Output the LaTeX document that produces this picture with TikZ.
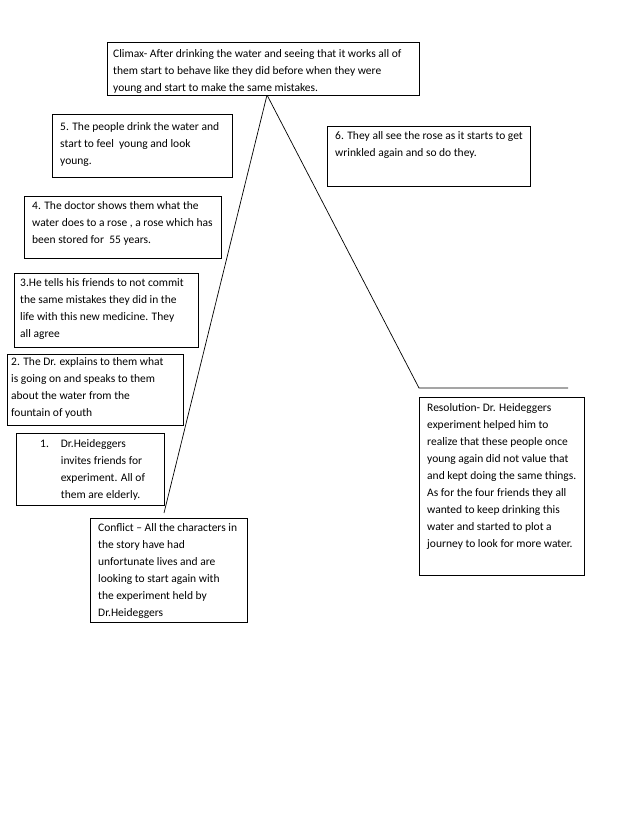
\documentclass[tikz,border=0pt]{standalone}
\usepackage{fontspec}
\setmainfont{Carlito}
\tikzset{
  box/.style={draw=black, line width=1pt, fill=white, inner sep=0pt, anchor=north west},
  txt/.style={inner sep=0pt, anchor=north west, align=left, font=\fontsize{11.5}{17}\selectfont},
  plotline/.style={draw=black, line width=0.7pt}
}
\begin{document}
\begin{tikzpicture}[x=1pt,y=-1pt]
\useasboundingbox[fill=white] (0,0) rectangle (638,826);

% plot line
\coordinate (start) at (164,513);
\coordinate (apex) at (267,95);
\coordinate (fall) at (419,388);
\coordinate (tail) at (568,388);
\draw[plotline] (start) -- (apex) -- (fall) -- (tail);

% boxes
\node[box, minimum width=312pt, minimum height=53pt] (climax) at (107,42) {};
\node[txt] (climaxT) at (113,49) {Climax- After drinking the water and seeing that it works all of\\them start to behave like they did before when they were\\young and start to make the same mistakes.};

\node[box, minimum width=180pt, minimum height=63pt] (five) at (52,114) {};
\node[txt] (fiveT) at (60,122) {5. The people drink the water and\\start to feel\ \ young and look\\young.};

\node[box, minimum width=203pt, minimum height=60pt] (six) at (327,126) {};
\node[txt] (sixT) at (335,131) {6. They all see the rose as it starts to get\\wrinkled again and so do they.};

\node[box, minimum width=197pt, minimum height=62pt] (four) at (24,196) {};
\node[txt] (fourT) at (32,201) {4. The doctor shows them what the\\water does to a rose , a rose which has\\been stored for\ \ 55 years.};

\node[box, minimum width=184pt, minimum height=74pt] (three) at (14,273) {};
\node[txt] (threeT) at (20,278) {3.He tells his friends to not commit\\the same mistakes they did in the\\life with this new medicine. They\\all agree};

\node[box, minimum width=176pt, minimum height=71pt] (two) at (7,354) {};
\node[txt] (twoT) at (11,357) {2. The Dr. explains to them what\\is going on and speaks to them\\about the water from the\\fountain of youth};

\node[box, minimum width=148pt, minimum height=72pt] (one) at (16,433) {};
\node[inner sep=0pt, anchor=north west, font=\fontsize{11.5}{17}\selectfont] (oneT) at (40,435) {\begin{tabular}{@{}l@{\hspace{12pt}}l@{}}1. & Dr.Heideggers\\ & invites friends for\\ & experiment. All of\\ & them are elderly.\end{tabular}};

\node[box, minimum width=157pt, minimum height=104pt] (conflict) at (90,518) {};
\node[txt] (conflictT) at (98,523) {Conflict -- All the characters in\\the story have had\\unfortunate lives and are\\looking to start again with\\the experiment held by\\Dr.Heideggers};

\node[box, minimum width=165pt, minimum height=178pt] (resolution) at (419,397) {};
\node[txt] (resolutionT) at (427,403) {Resolution- Dr. Heideggers\\experiment helped him to\\realize that these people once\\young again did not value that\\and kept doing the same things.\\As for the four friends they all\\wanted to keep drinking this\\water and started to plot a\\journey to look for more water.};
\end{tikzpicture}
\end{document}
